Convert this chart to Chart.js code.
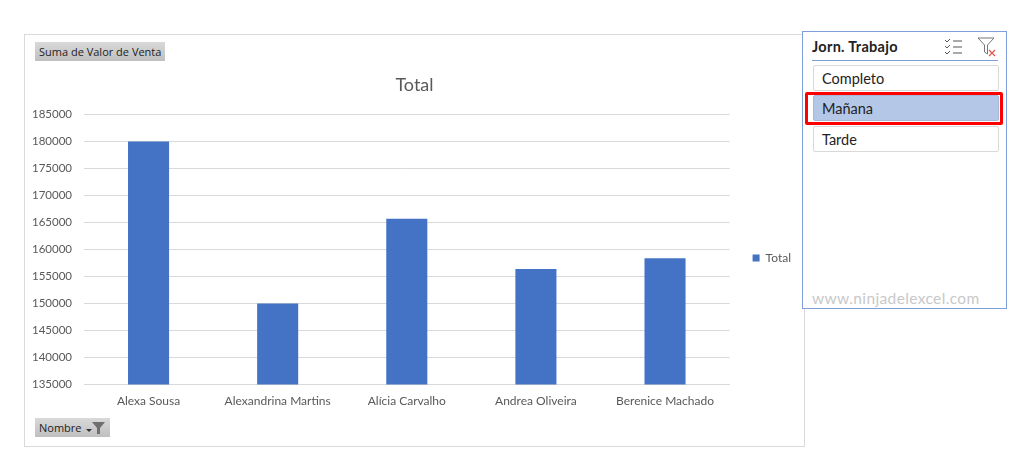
<!DOCTYPE html>
<html lang="es">
<head>
  <meta charset="UTF-8">
  <title>Suma de Valor de Venta</title>
  <style>
    html, body { margin: 0; padding: 0; background: #fff; }
    body { width: 1024px; height: 453px; position: relative; overflow: hidden; font-family: Lato, sans-serif; }

    .chart-frame {
      position: absolute; left: 24px; top: 34px;
      width: 779px; height: 411px;
      border: 1px solid #d9d9d9;
    }
    .chart-frame canvas { display: block; }

    /* pivot field buttons */
    .field-btn {
      position: absolute; left: 35px;
      height: 19px; line-height: 19px;
      background: linear-gradient(#d9d9d9, #bfbfbf);
      color: #222; font-family: "Open Sans", sans-serif; font-size: 11px;
      padding-left: 4px; box-sizing: border-box; white-space: nowrap;
    }
    #valueBtn { top: 42px; width: 130px; }
    #rowBtn { top: 418px; width: 75px; }
    #rowBtn svg { position: absolute; left: 50px; top: 3px; }

    /* slicer */
    .slicer {
      position: absolute; left: 802px; top: 31px;
      width: 205px; height: 278px;
      box-sizing: border-box;
      border: 1px solid #7f9fdc;
      background: #fff;
    }
    .slicer-title {
      position: absolute; left: 9px; top: 6px;
      font-size: 14.5px; font-weight: 700; color: #222; letter-spacing: 0.3px;
    }
    .slicer-rule { position: absolute; left: 9px; top: 28px; width: 186px; height: 1px; background: #7f9fdc; }
    .slicer svg { position: absolute; }
    .item {
      position: absolute; left: 10px; width: 186px; height: 26px; line-height: 25px;
      box-sizing: border-box;
      border: 1px solid #d9d9d9; border-radius: 2px;
      padding-left: 8px; font-size: 14.5px; color: #222;
    }
    .item.on { background: #b4c7e7; border-color: #a6b8d6; }
    .highlight {
      position: absolute; left: 805px; top: 92px;
      width: 198px; height: 33px;
      box-sizing: border-box;
      border: 3px solid #f00; border-radius: 2px;
    }
    .watermark {
      position: absolute; left: 812px; top: 289px;
      font-size: 15.5px; color: #c8c8c8; letter-spacing: 0.37px;
    }
  </style>
</head>
<body>
  <div class="chart-frame"><canvas id="salesChart" width="779" height="411"></canvas></div>

  <div class="field-btn" id="valueBtn">Suma de Valor de Venta</div>
  <div class="field-btn" id="rowBtn">Nombre
    <svg width="22" height="14" viewBox="0 0 22 14">
      <path d="M1 8h6l-3 3z" fill="#333"/>
      <path d="M7 1h13l-5 6v6h-3V7z" fill="#6f6f6f"/>
    </svg>
  </div>

  <div class="slicer">
    <div class="slicer-title">Jorn. Trabajo</div>
    <svg style="left:141px;top:6px" width="20" height="18" viewBox="0 0 20 18" fill="none" stroke="#555" stroke-width="1">
      <path d="M1 2l2 2 3-3M1 8l2 2 3-3M1 14l2 2 3-3"/>
      <path d="M9 3h9M9 9h9M9 15h9"/>
    </svg>
    <svg style="left:174px;top:5px" width="20" height="20" viewBox="0 0 20 20" fill="none">
      <path d="M1 1h16l-6.5 7v9l-3-2V8z" stroke="#777" stroke-width="1"/>
      <path d="M12 13l6 6M18 13l-6 6" stroke="#e0574f" stroke-width="1.2"/>
    </svg>
    <div class="slicer-rule"></div>
    <div class="item" style="top:33px">Completo</div>
    <div class="item on" style="top:63px">Mañana</div>
    <div class="item" style="top:94px">Tarde</div>
  </div>
  <div class="highlight"></div>
  <div class="watermark">www.ninjadelexcel.com</div>

  <script src="https://cdn.jsdelivr.net/npm/chart.js"></script>
  <script>
    const nombres = ['Alexa Sousa', 'Alexandrina Martins', 'Alícia Carvalho', 'Andrea Oliveira', 'Berenice Machado'];
    const totales = [180000, 150000, 165700, 156400, 158400];
    const serieNombre = 'Total';
    const ejeMin = 135000;
    const ejeMax = 185000;
    const ejePaso = 5000;

    // Excel keeps the legend next to the lower half of the plot, Chart.js would center it
    const moverLeyenda = {
      id: 'moverLeyenda',
      afterLayout(chart) {
        const l = chart.legend;
        l.left -= 3;
        l.right -= 3;
        l.top += 36;
        l.bottom += 36;
      }
    };

    const ctx = document.getElementById('salesChart').getContext('2d');
    new Chart(ctx, {
      type: 'bar',
      data: {
        labels: nombres,
        datasets: [{
          label: serieNombre,
          data: totales,
          backgroundColor: '#4472c4',
          barPercentage: 0.318,
          categoryPercentage: 1
        }]
      },
      plugins: [moverLeyenda],
      options: {
        responsive: false,
        animation: false,
        layout: { padding: { left: 0, right: 0, top: 0, bottom: 37 } },
        plugins: {
          title: {
            display: true,
            text: serieNombre,
            color: '#595959',
            font: { family: 'Lato', size: 18, weight: 'normal' },
            padding: { top: 39, bottom: 19 }
          },
          legend: {
            position: 'right',
            labels: {
              boxWidth: 7,
              boxHeight: 7,
              padding: 26,
              color: '#595959',
              font: { family: 'Lato', size: 12 }
            }
          },
          tooltip: { enabled: false }
        },
        scales: {
          x: {
            grid: { display: false },
            border: { color: '#d9d9d9' },
            ticks: { color: '#595959', font: { family: 'Lato', size: 12 }, padding: 1, maxRotation: 0 }
          },
          y: {
            min: ejeMin,
            max: ejeMax,
            afterFit: (scale) => { scale.width = 59; },
            grid: { color: '#d9d9d9', drawTicks: false },
            border: { display: false },
            ticks: { stepSize: ejePaso, color: '#595959', font: { family: 'Lato', size: 11.5 }, padding: 12, callback: (v) => String(v) }
          }
        }
      }
    });
  </script>
</body>
</html>
